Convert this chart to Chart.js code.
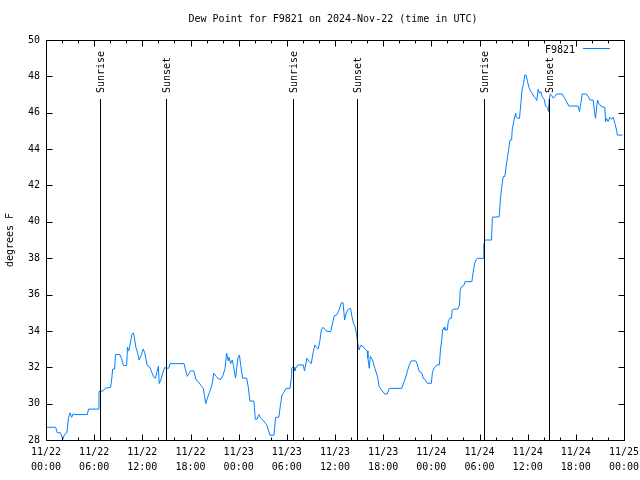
<!DOCTYPE html>
<html>
<head>
<meta charset="utf-8">
<script src="https://cdn.jsdelivr.net/npm/chart.js@4"></script>
<style>
html,body{margin:0;padding:0;background:#fff;}
#wrap{width:640px;height:480px;}
</style>
</head>
<body>
<div id="wrap"><canvas id="c" width="640" height="480"></canvas></div>
<script>
const chartTitle = 'Dew Point for F9821 on 2024-Nov-22 (time in UTC)';
const yAxisTitle = 'degrees F';
const seriesName = 'F9821';

// hours since 11/22 00:00 UTC
const hours = [
0.0,1.2,1.4,1.8,2.1,2.3,2.6,2.8,3.0,3.2,3.4,3.5,5.15,5.3,6.5,6.6,7.1,7.4,8.05,8.2,8.3,8.55,8.65,9.2,9.4,9.65,10.05,10.15,10.3,10.5,10.7,10.9,11.2,11.4,11.6,11.9,12.1,12.3,12.6,12.95,13.1,13.45,13.65,13.85,14.0,14.1,14.3,14.55,14.8,14.9,15.3,15.45,
17.2,17.35,17.6,17.8,18.0,18.4,18.7,19.0,19.3,19.6,19.75,19.9,20.1,20.35,20.6,20.75,20.9,21.2,21.5,21.8,22.05,22.3,22.5,22.7,22.8,23.0,23.2,23.35,23.6,23.75,23.9,24.1,24.25,24.5,25.0,25.2,25.4,25.9,26.07,26.3,26.5,26.7,26.9,27.1,27.5,27.7,27.9,28.4,28.6,29.0,29.2,29.4,29.6,29.9,30.4,30.55,30.6,
30.75,30.9,31.0,31.1,31.4,32.05,32.2,32.5,32.8,33.04,33.3,33.5,33.7,33.9,34.1,34.3,34.5,34.9,35.45,35.7,35.9,36.2,36.5,36.8,37.0,37.2,37.36,37.65,37.94,38.1,38.3,38.5,38.7,38.8,39.0,39.2,39.5,39.7,40.0,40.1,40.27,40.4,40.68,40.97,41.3,41.5,41.8,42.2,42.5,42.76,44.3,44.7,45.0,45.25,45.5,46.07,
46.2,46.5,46.8,47.0,47.2,47.5,48.0,48.15,48.4,48.7,49.0,49.15,49.3,49.4,49.6,49.7,50.0,50.1,50.3,50.5,50.6,50.8,51.3,51.5,51.6,51.76,52.05,52.2,53.05,53.2,53.4,53.55,53.76,54.46,54.54,54.67,55.5,55.6,56.45,56.6,56.75,56.95,57.16,57.37,57.6,57.7,57.8,58.0,
58.07,58.3,58.5,58.6,58.8,58.98,59.15,59.3,59.48,59.65,59.8,59.98,60.15,60.4,60.56,60.73,60.98,61.14,61.3,61.48,61.64,61.81,62.06,62.22,62.48,62.6,62.68,62.81,62.97,63.18,63.39,63.6,64.3,64.55,64.84,65.13,66.29,66.46,66.62,66.79,67.33,67.54,67.75,68.16,68.29,68.45,68.7,68.87,69.12,69.41,69.61,69.7,69.82,70.03,70.24,70.44,70.65,70.86,71.07,71.19,71.8
];
const dewPoint = [
28.7,28.7,28.4,28.4,28.05,28.3,28.4,29.2,29.5,29.25,29.45,29.4,29.4,29.7,29.7,30.66,30.7,30.85,30.9,31.4,31.9,31.9,32.7,32.7,32.5,32.1,32.1,33.1,32.9,33.3,33.8,33.9,33.1,32.8,32.4,32.7,33.0,32.8,32.1,32.0,31.8,31.45,31.4,31.8,32.05,31.1,31.3,31.7,32.0,31.95,31.95,32.2,
32.2,31.9,31.5,31.65,31.8,31.8,31.3,31.2,31.0,30.84,30.4,30.0,30.3,30.6,30.93,31.2,31.67,31.5,31.35,31.35,31.55,31.94,32.77,32.35,32.55,32.2,32.4,32.1,31.4,31.9,32.5,32.67,32.1,31.4,31.4,30.9,30.14,30.14,29.14,29.14,29.4,29.25,29.14,29.05,28.83,28.55,28.26,28.26,29.25,29.25,29.9,30.48,30.6,30.84,30.84,31.4,31.94,
32.0,32.0,31.8,31.95,32.13,32.13,31.8,32.5,32.3,32.2,32.86,33.23,33.1,33.0,33.4,34.05,34.2,34.0,33.95,34.42,34.82,34.87,35.15,35.55,35.55,34.6,34.95,35.19,35.24,34.82,34.42,34.24,33.78,33.4,32.95,33.2,33.15,33.02,32.9,32.5,31.94,32.6,32.4,31.94,31.48,30.93,30.75,30.53,30.53,30.84,30.84,31.3,31.76,32.13,32.35,32.35,
32.22,31.76,31.7,31.39,31.34,31.12,31.12,31.76,32.0,32.13,32.13,33.05,33.5,34.05,34.2,34.05,34.05,34.5,34.7,34.7,35.15,35.2,35.2,35.4,36.25,36.43,36.5,36.71,36.71,37.2,37.72,37.9,37.99,37.99,38.72,39.0,39.0,40.25,40.28,41.2,41.84,42.48,42.5,43.22,43.86,44.2,44.5,44.5,
45.05,45.6,45.97,45.75,45.69,45.69,46.51,47.25,47.6,48.08,48.08,47.72,47.4,47.16,47.07,46.92,46.8,46.67,47.29,47.07,47.16,46.88,46.74,46.37,46.3,46.06,46.7,47.03,46.97,46.8,46.88,47.03,47.03,46.85,46.61,46.37,46.37,46.06,46.51,47.03,47.03,46.88,46.7,46.7,46.2,45.69,46.7,46.51,46.37,46.3,46.3,45.51,45.69,45.51,45.75,45.64,45.75,45.42,45.05,44.77,44.77
];

const xTickDates = ['11/22','11/22','11/22','11/22','11/23','11/23','11/23','11/23','11/24','11/24','11/24','11/24','11/25'];
const xTickTimes = ['00:00','06:00','12:00','18:00','00:00','06:00','12:00','18:00','00:00','06:00','12:00','18:00','00:00'];
const xMin = 0, xMax = 72, xStep = 6, xMinorStep = 2;
const yMin = 28, yMax = 50, yStep = 2;

const sunEventHours = [6.72, 14.9, 30.72, 38.75, 54.6, 62.65];
const sunEventLabels = ['Sunrise','Sunset','Sunrise','Sunset','Sunrise','Sunset'];

const FONT = '"DejaVu Sans Mono", "Liberation Mono", monospace';
const LINE_COLOR = 'rgb(0,128,255)';

const decorPlugin = {
  id: 'decor',
  afterDatasetsDraw(chart) {
    const ctx = chart.ctx, a = chart.chartArea;
    const xs = chart.scales.x;
    ctx.save();
    ctx.strokeStyle = '#000';
    ctx.lineWidth = 1;
    ctx.fillStyle = '#000';
    ctx.font = '10px ' + FONT;
    const lineTop = a.top + 59;
    sunEventHours.forEach((h, i) => {
      const x = Math.round(xs.getPixelForValue(h)) + 0.5;
      ctx.beginPath();
      ctx.moveTo(x, lineTop);
      ctx.lineTo(x, a.bottom);
      ctx.stroke();
      ctx.save();
      ctx.translate(x + 0.5, lineTop - 6);
      ctx.rotate(-Math.PI / 2);
      ctx.textAlign = 'left';
      ctx.textBaseline = 'middle';
      ctx.fillText(sunEventLabels[i], 0, 0);
      ctx.restore();
    });
    ctx.restore();
  },
  afterDraw(chart) {
    const ctx = chart.ctx, a = chart.chartArea;
    const xs = chart.scales.x, ys = chart.scales.y;
    ctx.save();
    ctx.strokeStyle = '#000';
    ctx.lineWidth = 1;
    const L = Math.round(a.left) + 0.5, R = Math.round(a.right) + 0.5;
    const T = Math.round(a.top) + 0.5, B = Math.round(a.bottom) + 0.5;
    ctx.beginPath();
    for (let v = xMin; v <= xMax + 1e-9; v += xMinorStep) {
      const x = Math.round(xs.getPixelForValue(v)) + 0.5;
      const len = (Math.abs(v % xStep) < 1e-9) ? 6 : 3;
      ctx.moveTo(x, B); ctx.lineTo(x, B - len);
      ctx.moveTo(x, T); ctx.lineTo(x, T + len);
    }
    for (let v = yMin; v <= yMax + 1e-9; v += yStep) {
      const y = Math.round(ys.getPixelForValue(v)) + 0.5;
      ctx.moveTo(L, y); ctx.lineTo(L + 6, y);
      ctx.moveTo(R, y); ctx.lineTo(R - 6, y);
    }
    ctx.stroke();
    ctx.strokeRect(L, T, R - L, B - T);
    ctx.fillStyle = '#000';
    ctx.font = '10px ' + FONT;
    ctx.textAlign = 'center';
    ctx.textBaseline = 'middle';
    ctx.fillText(chartTitle, 333, 19);
    ctx.save();
    ctx.translate(10, (a.top + a.bottom) / 2);
    ctx.rotate(-Math.PI / 2);
    ctx.fillText(yAxisTitle, 0, 0);
    ctx.restore();
    ctx.textAlign = 'right';
    ctx.fillText(seriesName, 575, 50);
    ctx.strokeStyle = LINE_COLOR;
    ctx.beginPath();
    ctx.moveTo(583, 48.5); ctx.lineTo(610, 48.5);
    ctx.stroke();
    ctx.restore();
  }
};

new Chart(document.getElementById('c'), {
  type: 'line',
  data: {
    datasets: [{
      label: seriesName,
      data: hours.map((h, i) => ({ x: h, y: dewPoint[i] })),
      borderColor: LINE_COLOR,
      borderWidth: 1,
      pointRadius: 0,
      tension: 0,
      fill: false
    }]
  },
  options: {
    responsive: false,
    animation: false,
    devicePixelRatio: 1,
    layout: { padding: { left: 0, right: 16, top: 40, bottom: 0 } },
    plugins: { legend: { display: false }, title: { display: false }, tooltip: { enabled: false } },
    scales: {
      x: {
        type: 'linear', min: xMin, max: xMax,
        grid: { display: false, drawTicks: false },
        border: { display: false },
        afterFit(s) { s.height = 40; s.paddingLeft = 0; s.paddingRight = 0; },
        afterBuildTicks(s) {
          const t = [];
          for (let v = xMin; v <= xMax; v += xStep) t.push({ value: v });
          s.ticks = t;
        },
        ticks: {
          autoSkip: false, maxRotation: 0, minRotation: 0, padding: 5,
          color: '#000',
          font: { family: FONT, size: 10, lineHeight: 1.5 },
          callback(v) { const i = Math.round(v / xStep); return [xTickDates[i], xTickTimes[i]]; }
        }
      },
      y: {
        type: 'linear', min: yMin, max: yMax,
        grid: { display: false, drawTicks: false },
        border: { display: false },
        afterFit(s) { s.width = 46; s.paddingTop = 0; s.paddingBottom = 0; },
        ticks: {
          stepSize: yStep, padding: 6, color: '#000',
          font: { family: FONT, size: 10 }
        }
      }
    }
  },
  plugins: [decorPlugin]
});
</script>
</body>
</html>
